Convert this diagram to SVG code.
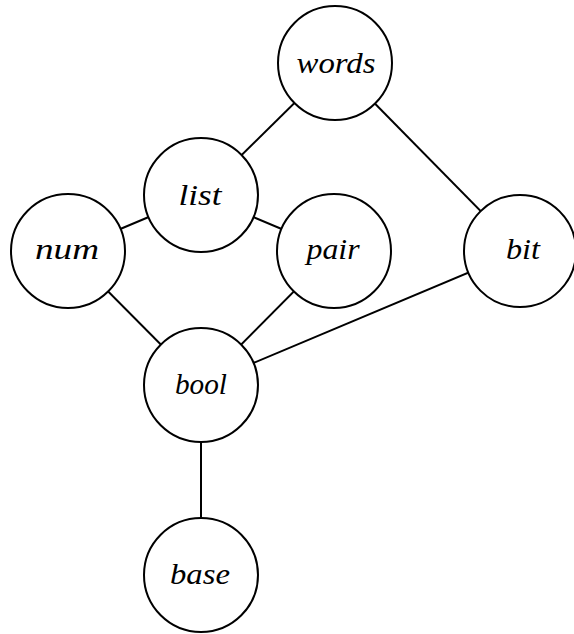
<svg xmlns="http://www.w3.org/2000/svg" width="574" height="634" viewBox="0 0 574 634">
<style>
.edge{stroke:#000;stroke-width:2;fill:none}
.node circle{fill:#fff;stroke:#000;stroke-width:2}
.node text{font-family:"Liberation Serif","DejaVu Serif",serif;font-style:italic;font-size:29px;text-anchor:middle;fill:#000}
</style>
<rect width="574" height="634" fill="#fff"/>
<g id="edges">
<line class="edge" x1="335" y1="63" x2="201" y2="195"/>
<line class="edge" x1="335" y1="63" x2="520" y2="251"/>
<line class="edge" x1="201" y1="195" x2="68" y2="251"/>
<line class="edge" x1="201" y1="195" x2="334" y2="251"/>
<line class="edge" x1="68" y1="251" x2="201" y2="385"/>
<line class="edge" x1="334" y1="251" x2="201" y2="385"/>
<line class="edge" x1="520" y1="251" x2="201" y2="385"/>
<line class="edge" x1="201" y1="385" x2="201" y2="575"/>
</g>
<g id="words" class="node"><circle cx="335" cy="63" r="57"/><text x="336" y="73" textLength="79" lengthAdjust="spacingAndGlyphs">words</text></g>
<g id="list" class="node"><circle cx="201" cy="195" r="57"/><text x="200" y="205" textLength="43" lengthAdjust="spacingAndGlyphs">list</text></g>
<g id="num" class="node"><circle cx="68" cy="251" r="57"/><text x="67" y="259" textLength="64" lengthAdjust="spacingAndGlyphs">num</text></g>
<g id="pair" class="node"><circle cx="334" cy="251" r="57"/><text x="333" y="259" textLength="53" lengthAdjust="spacingAndGlyphs">pair</text></g>
<g id="bit" class="node"><circle cx="520" cy="251" r="56"/><text x="523" y="259" textLength="34" lengthAdjust="spacingAndGlyphs">bit</text></g>
<g id="bool" class="node"><circle cx="201" cy="385" r="57"/><text x="201" y="394" textLength="52" lengthAdjust="spacingAndGlyphs">bool</text></g>
<g id="base" class="node"><circle cx="201" cy="575" r="57"/><text x="200" y="584" textLength="60" lengthAdjust="spacingAndGlyphs">base</text></g>
</svg>
